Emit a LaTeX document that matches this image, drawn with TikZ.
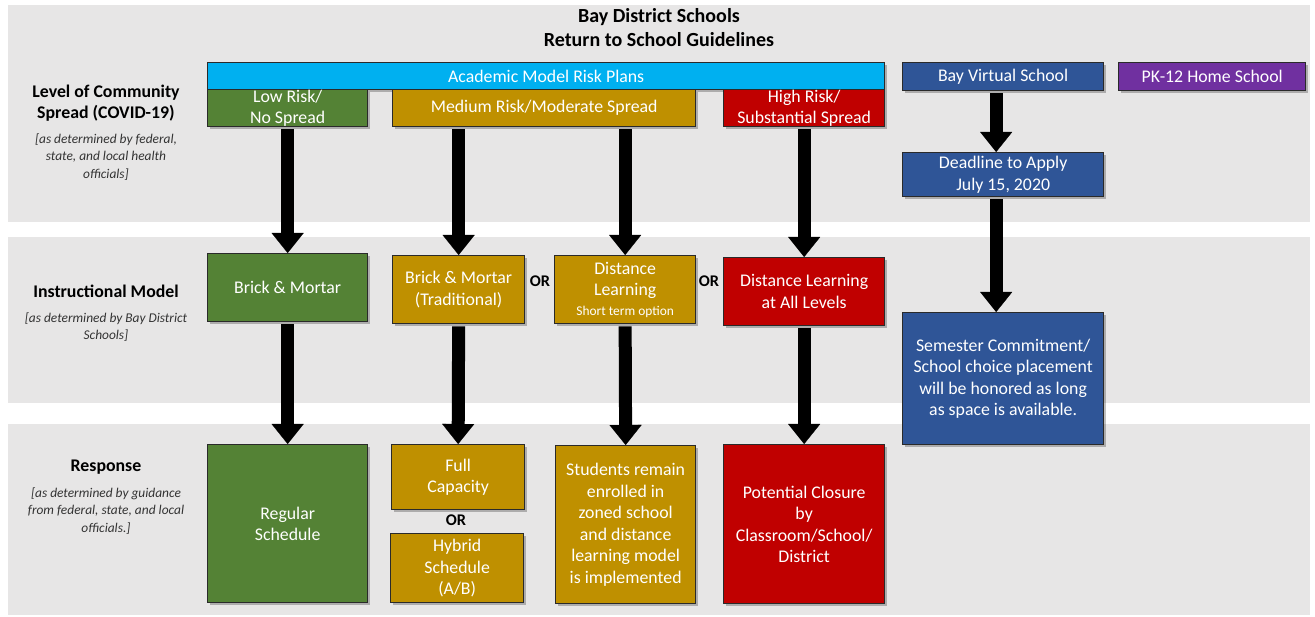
\documentclass[tikz,border=0pt]{standalone}
\usepackage{fontspec}
\setmainfont{Carlito}
\usetikzlibrary{arrows.meta,shadows}
\definecolor{bandgray}{HTML}{E7E6E6}
\definecolor{boxline}{HTML}{2A2A2A}
\definecolor{cgreen}{HTML}{548235}
\definecolor{cgold}{HTML}{BF9000}
\definecolor{cred}{HTML}{C00000}
\definecolor{ccyan}{HTML}{00B0F0}
\definecolor{cblue}{HTML}{2F5597}
\definecolor{cpurple}{HTML}{7030A0}
\newcommand\myBodyFont{\fontsize{17.8}{21.5}\selectfont}
\newcommand\myHeadFont{\fontsize{17.8}{20.5}\selectfont}
\newcommand\myTitleFont{\fontsize{20}{24}\selectfont\bfseries}
\newcommand\myLabFont{\fontsize{17.8}{21}\selectfont\bfseries}
\newcommand\myNoteFont{\fontsize{13.4}{17.3}\selectfont\itshape}
\begin{document}
\begin{tikzpicture}[x=1pt,y=-1pt,
  box/.style={draw=boxline, line width=1.3pt, text=white, align=center,
    anchor=north west, inner sep=0pt, font=\myBodyFont,
    drop shadow={shadow xshift=2pt, shadow yshift=-2pt, fill=black, opacity=0.25}},
  headbox/.style={box, font=\myHeadFont},
  lab/.style={align=center, font=\myLabFont, text=black},
  note/.style={align=center, font=\myNoteFont, text=black!80},
  orlab/.style={font=\fontsize{16.3}{18}\selectfont\bfseries, text=black},
  bigarrow/.style={draw=black, line width=13pt, shorten <=2pt,
    -{Triangle[width=32pt,length=20pt,line width=0.1pt]}}
]
\useasboundingbox (0,0) rectangle (1315,617);
\fill[white] (0,0) rectangle (1315,617);
% bands
\fill[bandgray] (8,5) rectangle (1310,222);
\fill[bandgray] (8,237) rectangle (1310,403);
\fill[bandgray] (8,424) rectangle (1310,615);

% title
\node[align=center, font=\myTitleFont] (title) at (659,28) {Bay District Schools\\Return to School Guidelines};

% left labels
\node[lab] (l1) at (106,103) {Level of Community\\Spread (COVID-19)};
\node[note] (n1) at (106,157) {[as determined by federal,\\state, and local health\\officials]};
\node[lab] (l2) at (106,291) {Instructional Model};
\node[note] (n2) at (106,327) {[as determined by Bay District\\Schools]};
\node[lab] (l3) at (106,467) {Response};
\node[note] (n3) at (106,511) {[as determined by guidance\\from federal, state, and local\\officials.]};

% top row
\node[box, fill=ccyan, minimum width=677pt, minimum height=27pt] (amrp) at (207,62) {Academic Model Risk Plans};
\node[headbox, fill=cgreen, minimum width=160pt, minimum height=37pt] (low) at (207,89) {Low Risk/\\No Spread};
\node[headbox, fill=cgold, minimum width=303pt, minimum height=37pt] (med) at (392,89) {Medium Risk/Moderate Spread};
\node[headbox, fill=cred, minimum width=161pt, minimum height=37pt] (high) at (723,89) {High Risk/\\Substantial Spread};
\node[box, fill=cblue, minimum width=201pt, minimum height=28pt] (bvs) at (902,62) {Bay Virtual School};
\node[box, fill=cpurple, minimum width=187pt, minimum height=28pt] (pk) at (1118,62) {PK-12 Home School};
\node[box, fill=cblue, minimum width=201pt, minimum height=44pt] (dl) at (902,152) {Deadline to Apply\\July 15, 2020};
\node[box, fill=cblue, minimum width=201pt, minimum height=132pt] (sem) at (902,312) {Semester Commitment/\\School choice placement\\will be honored as long\\as space is available.};

% instructional model row
\node[box, fill=cgreen, minimum width=160pt, minimum height=68pt] (bm) at (207,253) {Brick \& Mortar};
\node[box, fill=cgold, minimum width=132pt, minimum height=68pt] (bt) at (392,255) {Brick \& Mortar\\(Traditional)};
\node[box, fill=cgold, minimum width=141pt, minimum height=68pt] (dist) at (554,255) {Distance\\Learning\\[-2pt]{\fontsize{13.4}{15}\selectfont Short term option}};
\node[box, fill=cred, minimum width=161pt, minimum height=68pt] (dall) at (723,257) {Distance Learning\\at All Levels};
\node[orlab] (or1) at (540,281) {OR};
\node[orlab] (or2) at (709,281) {OR};

% response row
\node[box, fill=cgreen, minimum width=160pt, minimum height=158pt] (reg) at (207,444) {Regular\\Schedule};
\node[box, fill=cgold, minimum width=133pt, minimum height=65pt] (full) at (391,444) {Full\\Capacity};
\node[orlab] (or3) at (456,520) {OR};
\node[box, fill=cgold, minimum width=133pt, minimum height=69pt] (hyb) at (390,533) {Hybrid\\Schedule\\(A/B)};
\node[box, fill=cgold, minimum width=140pt, minimum height=158pt] (stud) at (555,445) {Students remain\\enrolled in\\zoned school\\and distance\\learning model\\is implemented};
\node[box, fill=cred, minimum width=161pt, minimum height=159pt] (pot) at (723,444) {Potential Closure\\by\\Classroom/School/\\District};

% arrows
\draw[bigarrow] (low.south) -- (bm.north);
\draw[bigarrow] (bm.south) -- (reg.north);
\draw[bigarrow] (bt.north |- med.south) -- (bt.north);
\draw[bigarrow] (bt.south) -- (full.north);
\draw[bigarrow] (dist.north |- med.south) -- (dist.north);
\draw[bigarrow] (dist.south) -- (stud.north);
\draw[bigarrow] (high.south) -- (dall.north);
\draw[bigarrow] (dall.south) -- (pot.north);
\draw[bigarrow] ([xshift=-7pt]bvs.south) -- ([xshift=-7pt]dl.north);
\draw[bigarrow] ([xshift=-7pt]dl.south) -- ([xshift=-7pt]sem.north);
\end{tikzpicture}
\end{document}
